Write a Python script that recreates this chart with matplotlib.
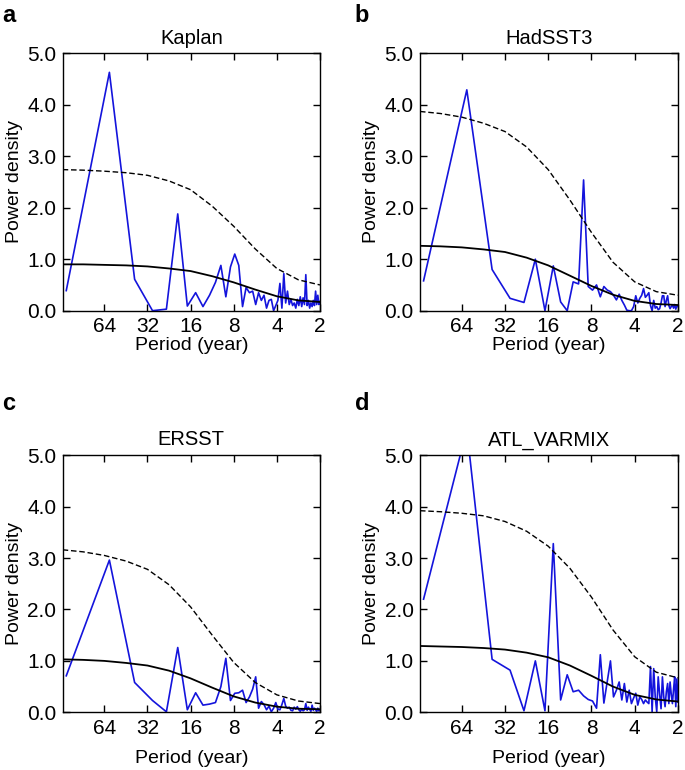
import numpy as np
import matplotlib.pyplot as plt
from matplotlib.ticker import NullLocator

plt.rcParams['font.family'] = ['Liberation Sans', 'DejaVu Sans']

# periodogram harmonics of a 118-year record (period = N / k)
record_length = 118
harmonics = np.arange(1, 60)
periods = record_length / harmonics

titles = ['Kaplan', 'HadSST3', 'ERSST', 'ATL_VARMIX']
letters = ['a', 'b', 'c', 'd']

# spectral power, k = 1..59
kaplan = [0.39, 4.63, 0.61, 0.00, 0.03, 1.88, 0.09, 0.35, 0.08, 0.30,
          0.55, 0.88, 0.27, 0.85, 1.10, 0.88, 0.08, 0.45, 0.35, 0.38,
          0.12, 0.35, 0.20, 0.30, 0.05, 0.20, 0.22, 0.00, 0.10, 0.20,
          0.53, 0.05, 0.72, 0.15, 0.38, 0.12, 0.22, 0.10, 0.15, 0.05,
          0.22, 0.10, 0.27, 0.08, 0.25, 0.12, 0.70, 0.10, 0.20, 0.05,
          0.15, 0.08, 0.20, 0.10, 0.38, 0.12, 0.30, 0.12, 0.18]
hadsst3 = [0.58, 4.29, 0.80, 0.24, 0.16, 1.00, 0.00, 0.87, 0.17, 0.00,
           0.56, 0.52, 2.54, 0.47, 0.40, 0.50, 0.27, 0.47, 0.40, 0.37,
           0.30, 0.21, 0.32, 0.20, 0.11, 0.01, 0.00, 0.00, 0.08, 0.29,
           0.15, 0.24, 0.30, 0.43, 0.26, 0.30, 0.35, 0.10, 0.00, 0.20,
           0.05, 0.08, 0.02, 0.04, 0.15, 0.29, 0.29, 0.08, 0.20, 0.29,
           0.10, 0.04, 0.08, 0.11, 0.05, 0.12, 0.03, 0.10, 0.08]
ersst = [0.71, 2.96, 0.58, 0.23, 0.01, 1.26, 0.05, 0.38, 0.14, 0.16,
         0.19, 0.50, 1.05, 0.23, 0.37, 0.38, 0.43, 0.19, 0.30, 0.45,
         0.69, 0.08, 0.21, 0.15, 0.05, 0.12, 0.01, 0.08, 0.19, 0.06,
         0.05, 0.15, 0.27, 0.12, 0.08, 0.10, 0.04, 0.03, 0.10, 0.06,
         0.11, 0.05, 0.02, 0.06, 0.03, 0.05, 0.17, 0.04, 0.10, 0.06,
         0.02, 0.14, 0.04, 0.08, 0.05, 0.02, 0.08, 0.03, 0.05]
atl_varmix = [2.20, 5.50, 1.03, 0.82, 0.03, 1.00, 0.03, 3.28, 0.24, 0.73,
              0.40, 0.43, 0.32, 0.25, 0.22, 0.08, 1.12, 0.18, 0.60, 1.00,
              0.30, 0.43, 0.59, 0.24, 0.56, 0.20, 0.43, 0.17, 0.28, 0.37,
              0.14, 0.30, 0.25, 0.17, 0.24, 0.20, 0.17, 0.89, 0.01, 0.85,
              0.30, 0.01, 0.69, 0.35, 0.07, 0.69, 0.30, 0.11, 0.40, 0.56,
              0.17, 0.59, 0.35, 0.17, 0.45, 0.69, 0.11, 0.65, 0.20]

# red-noise background (solid) and 95% level (dashed)
bg_periods = [125, 90, 64, 45, 32, 22.6, 16, 11.3, 8, 5.66, 4, 2.83, 2]
bg_red = [
    [0.90, 0.90, 0.89, 0.88, 0.86, 0.82, 0.77, 0.67, 0.55, 0.41, 0.28, 0.20, 0.17],
    [1.26, 1.25, 1.23, 1.19, 1.14, 1.03, 0.88, 0.68, 0.48, 0.31, 0.19, 0.13, 0.11],
    [1.03, 1.02, 1.00, 0.96, 0.91, 0.81, 0.66, 0.48, 0.31, 0.19, 0.11, 0.07, 0.06],
    [1.29, 1.28, 1.27, 1.25, 1.22, 1.16, 1.07, 0.91, 0.71, 0.50, 0.34, 0.25, 0.21],
]
bg_95 = [
    [2.74, 2.73, 2.71, 2.68, 2.63, 2.52, 2.35, 2.03, 1.64, 1.20, 0.82, 0.60, 0.50],
    [3.87, 3.83, 3.76, 3.64, 3.48, 3.18, 2.74, 2.15, 1.52, 0.94, 0.56, 0.37, 0.30],
    [3.16, 3.12, 3.05, 2.94, 2.78, 2.48, 2.05, 1.50, 0.97, 0.58, 0.34, 0.22, 0.17],
    [3.92, 3.90, 3.87, 3.82, 3.71, 3.52, 3.23, 2.80, 2.24, 1.60, 1.08, 0.78, 0.67],
]

spectra = [kaplan, hadsst3, ersst, atl_varmix]
xticks = [64, 32, 16, 8, 4, 2]
yticks = [0, 1, 2, 3, 4, 5]

fig = plt.figure(figsize=(6.85, 7.7), dpi=100)
boxes = [[0.0915, 0.5965, 0.3756, 0.3343],
         [0.6131, 0.5965, 0.3766, 0.3343],
         [0.0915, 0.0749, 0.3756, 0.3340],
         [0.6131, 0.0749, 0.3766, 0.3340]]
letter_pos = [(0.003, 0.972), (0.518, 0.972), (0.003, 0.468), (0.518, 0.468)]

for i in range(4):
    ax = fig.add_axes(boxes[i])
    ax.plot(periods, spectra[i], color='#1414dc', lw=1.2)
    ax.plot(bg_periods, bg_red[i], color='black', lw=1.3)
    ax.plot(bg_periods, bg_95[i], color='black', lw=1.0, ls=(0, (4, 2)))

    ax.set_xscale('log', base=2)
    ax.set_xlim(125, 2)
    ax.set_ylim(0, 5)
    ax.set_xticks(xticks)
    ax.set_xticklabels([str(t) for t in xticks])
    ax.xaxis.set_minor_locator(NullLocator())
    ax.set_yticks(yticks)
    ax.set_yticklabels(['%.1f' % t for t in yticks])
    ax.tick_params(direction='in', top=True, right=True, length=5, width=1,
                   labelsize=15, pad=4.5)
    for s in ax.spines.values():
        s.set_linewidth(1.0)

    ax.set_title(titles[i], fontsize=14.5, pad=7)
    ax.set_ylabel('Power density', fontsize=14, labelpad=3)
    ax.set_xlabel('Period (year)', fontsize=14, labelpad=9 if i >= 2 else 1)

    fig.text(letter_pos[i][0], letter_pos[i][1], letters[i], fontsize=17,
             fontweight='bold', va='baseline')

fig.savefig('out.png', dpi=100)
